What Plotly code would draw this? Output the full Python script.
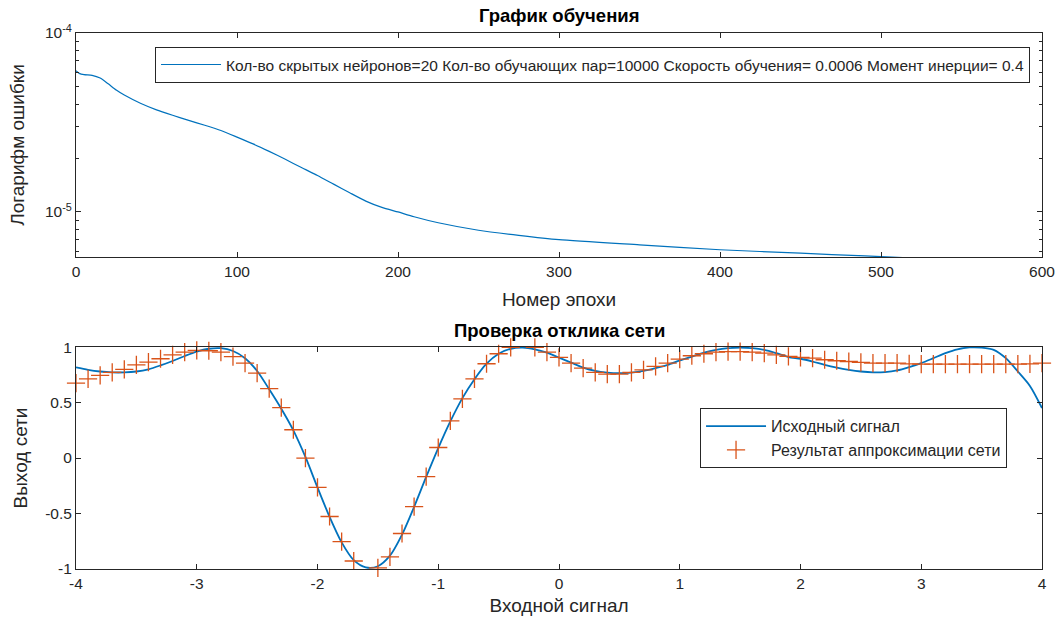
import plotly.graph_objects as go

# ---- Top plot: training curve ----
epochs = [0, 2, 5, 10, 15, 20, 25, 30, 40, 50, 60, 70, 80, 90, 100, 110, 120, 130, 140,
          150, 160, 170, 180, 190, 200, 210, 225, 250, 275, 300, 350, 400, 450, 490, 515]
err = [6.15e-5, 5.95e-5, 5.85e-5, 5.8e-5, 5.6e-5, 5.2e-5, 4.8e-5, 4.5e-5, 4.05e-5, 3.72e-5,
       3.47e-5, 3.25e-5, 3.05e-5, 2.85e-5, 2.62e-5, 2.4e-5, 2.18e-5, 1.97e-5, 1.77e-5,
       1.6e-5, 1.43e-5, 1.28e-5, 1.15e-5, 1.06e-5, 1.0e-5, 9.4e-6, 8.7e-6, 7.9e-6, 7.4e-6,
       7.0e-6, 6.55e-6, 6.15e-6, 5.88e-6, 5.68e-6, 5.55e-6]
legend_top = ("Кол-во скрытых нейронов=20 Кол-во обучающих пар=10000 "
              "Скорость обучения= 0.0006 Момент инерции= 0.4")

# ---- Bottom plot: network response ----
x_sig = [round(-4 + 0.1 * i, 1) for i in range(81)]
y_src = [0.817, 0.795, 0.78, 0.772, 0.772, 0.78, 0.80, 0.835, 0.875, 0.92,
         0.96, 0.985, 0.99, 0.965, 0.90, 0.785, 0.62, 0.445, 0.25, 0.01,
         -0.265, -0.53, -0.76, -0.92, -0.985, -0.975, -0.88, -0.69, -0.44, -0.17,
         0.09, 0.33, 0.54, 0.71, 0.85, 0.94, 0.985, 0.995, 0.98, 0.95,
         0.905, 0.86, 0.815, 0.785, 0.77, 0.765, 0.77, 0.785, 0.81, 0.84,
         0.88, 0.915, 0.95, 0.975, 0.99, 0.995, 0.99, 0.975, 0.945, 0.91,
         0.895, 0.87, 0.84, 0.815, 0.795, 0.78, 0.772, 0.775, 0.79, 0.82,
         0.856, 0.9, 0.945, 0.98, 0.997, 0.995, 0.975, 0.9, 0.78, 0.65,
         0.45]
y_net = [0.675, 0.714, 0.745, 0.772, 0.80, 0.84, 0.865, 0.895, 0.93, 0.955,
         0.97, 0.967, 0.955, 0.915, 0.855, 0.765, 0.625, 0.455, 0.255, 0.0,
         -0.265, -0.527, -0.753, -0.928, -1.02, -0.99, -0.89, -0.68, -0.437, -0.167,
         0.095, 0.335, 0.534, 0.714, 0.85, 0.94, 0.997, 1.006, 0.997, 0.955,
         0.907, 0.856, 0.81, 0.772, 0.756, 0.756, 0.772, 0.795, 0.826, 0.856,
         0.892, 0.922, 0.94, 0.955, 0.96, 0.96, 0.955, 0.946, 0.93, 0.916,
         0.907, 0.90, 0.886, 0.877, 0.87, 0.862, 0.856, 0.856, 0.856, 0.848,
         0.847, 0.846, 0.846, 0.846, 0.846, 0.846, 0.846, 0.846, 0.847, 0.848,
         0.856]
legend_bottom = ["Исходный сигнал", "Результат аппроксимации сети"]

BLUE = "#0072BD"
ORANGE = "#D95319"
AX = "#262626"
FONT = "Liberation Sans, Arial, sans-serif"

fig = go.Figure()
fig.add_trace(go.Scatter(x=epochs, y=err, mode="lines", line=dict(color=BLUE, width=1.2, shape="spline", smoothing=0.6),
                         name=legend_top, xaxis="x", yaxis="y", legend="legend", showlegend=True))
fig.add_trace(go.Scatter(x=x_sig, y=y_src, mode="lines", line=dict(color=BLUE, width=1.8, shape="spline", smoothing=0.8),
                         name=legend_bottom[0], xaxis="x2", yaxis="y2", legend="legend2", showlegend=True))
fig.add_trace(go.Scatter(x=x_sig, y=y_net, mode="markers", cliponaxis=False,
                         marker=dict(symbol="cross-thin", size=13, line=dict(color=ORANGE, width=1.3)),
                         name=legend_bottom[1], xaxis="x2", yaxis="y2", legend="legend2", showlegend=True))

axis_common = dict(showline=True, linecolor=AX, linewidth=1, mirror="ticks", ticks="inside",
                   ticklen=5, tickcolor=AX, showgrid=False, zeroline=False, automargin=False,
                   tickfont=dict(family=FONT, size=15.5, color=AX))
title_font = dict(size=19, color=AX, family=FONT)

fig.update_layout(
    width=1062, height=626, paper_bgcolor="white", plot_bgcolor="white",
    margin=dict(l=76, r=20, t=33, b=57),
    font=dict(family=FONT, color=AX),
    showlegend=True,
    xaxis=dict(domain=[0, 1], range=[0, 600], tickvals=[0, 100, 200, 300, 400, 500, 600],
               anchor="y", title=dict(text="Номер эпохи", font=title_font, standoff=14),
               **axis_common),
    yaxis=dict(domain=[0.582, 1.0], type="log", range=[-5.252, -4.0], anchor="x",
               tickvals=[1e-5, 1e-4], ticktext=["10<sup>-5</sup>", "10<sup>-4</sup>"],
               minor=dict(ticks="inside", ticklen=3, tickcolor=AX,
                          tickvals=[6e-6, 7e-6, 8e-6, 9e-6, 2e-5, 3e-5, 4e-5, 5e-5, 6e-5, 7e-5, 8e-5, 9e-5]),
               title=dict(text="Логарифм ошибки", font=title_font, standoff=15),
               **axis_common),
    xaxis2=dict(domain=[0, 1], range=[-4, 4], anchor="y2",
                tickvals=[-4, -3, -2, -1, 0, 1, 2, 3, 4],
                ticktext=["-4", "-3", "-2", "-1", "0", "1", "2", "3", "4"],
                title=dict(text="Входной сигнал", font=title_font, standoff=8),
                **axis_common),
    yaxis2=dict(domain=[0, 0.414], range=[-1, 1], anchor="x2",
                tickvals=[-1, -0.5, 0, 0.5, 1], ticktext=["-1", "-0.5", "0", "0.5", "1"],
                title=dict(text="Выход сети", font=title_font, standoff=12),
                **axis_common),
    legend=dict(x=0.9876, y=0.974, xanchor="right", yanchor="top", bgcolor="white",
                bordercolor=AX, borderwidth=1, font=dict(size=15.5, color=AX, family=FONT),
                itemwidth=60, tracegroupgap=0),
    legend2=dict(x=0.646, y=0.30, xanchor="left", yanchor="top", bgcolor="white",
                 bordercolor=AX, borderwidth=1, font=dict(size=16, color=AX, family=FONT),
                 itemwidth=60),
    annotations=[
        dict(text="<b>График обучения</b>", x=0.5, y=1.0, xref="paper", yref="paper",
             xanchor="center", yanchor="bottom", yshift=5, showarrow=False,
             font=dict(size=18.5, color="black", family=FONT)),
        dict(text="<b>Проверка отклика сети</b>", x=0.5, y=0.414, xref="paper", yref="paper",
             xanchor="center", yanchor="bottom", yshift=4, showarrow=False,
             font=dict(size=18.5, color="black", family=FONT)),
    ],
)

fig.write_html("out.html", config={"displayModeBar": False},
               post_script="document.body.style.margin='0';document.body.style.padding='0';")
